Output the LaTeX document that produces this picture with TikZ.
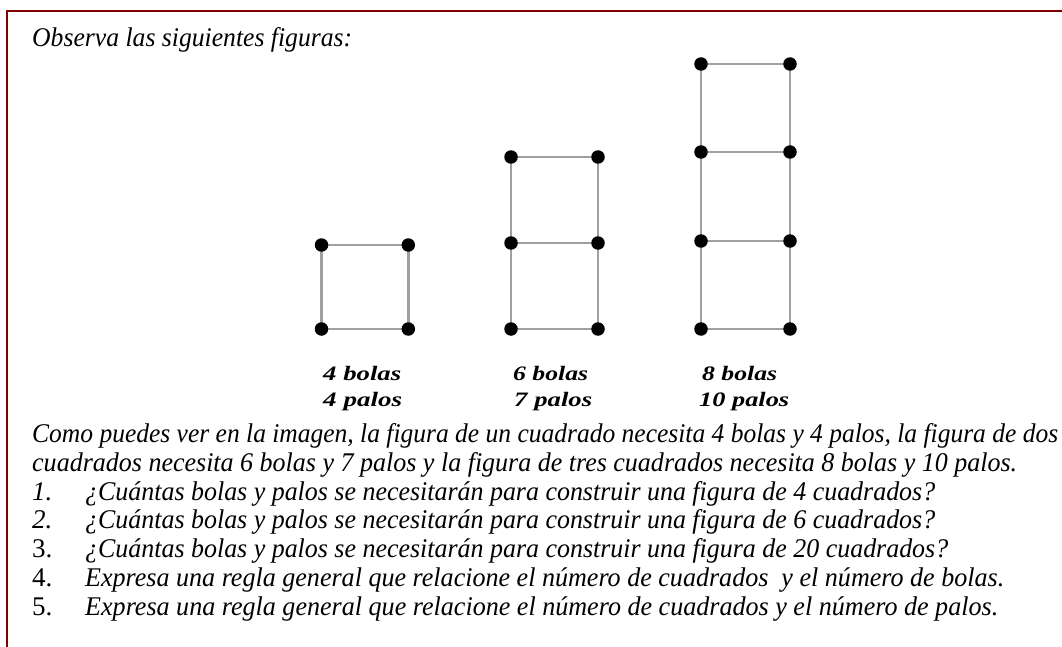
\documentclass[tikz,border=0pt]{standalone}
\usepackage{fontspec}
\setmainfont{Liberation Serif}
\usepackage{graphicx}
\pgfdeclarelayer{background}
\pgfsetlayers{background,main}
\definecolor{frame}{HTML}{800000}
\definecolor{stickc}{HTML}{A0A0A0}
\tikzset{
  ball/.style={circle, fill=black, inner sep=0pt, minimum size=13.5pt},
  stick/.style={draw=stickc, line width=2.8pt},
  txt/.style={anchor=base west, inner sep=0pt, font=\fontsize{27}{30}\selectfont\itshape},
  lbl/.style={anchor=base west, inner sep=0pt, font=\fontsize{20.5}{22}\selectfont\bfseries\itshape},
}
\newcommand{\fitw}[2]{\resizebox{#1pt}{\height}{#2}}
\begin{document}
\begin{tikzpicture}[x=1pt,y=-1pt]
\useasboundingbox (0,0) rectangle (1062,647);
% frame
\coordinate (fa) at (7,647);
\coordinate (fb) at (7,11);
\coordinate (fc) at (1062,11);
\draw[frame, line width=2.6pt] (fa) -- (fb) -- (fc);
% title
\node[txt] (title) at (32,47) {\fitw{320}{Observa las siguientes figuras:}};
% figure 1
\node[ball] (a1) at (321.5,329) {};
\node[ball] (a2) at (408.3,329) {};
\node[ball] (a3) at (321.5,245) {};
\node[ball] (a4) at (408.3,245) {};
% figure 2
\node[ball] (b1) at (511,329) {};
\node[ball] (b2) at (598,329) {};
\node[ball] (b3) at (511,243) {};
\node[ball] (b4) at (598,243) {};
\node[ball] (b5) at (511,157) {};
\node[ball] (b6) at (598,157) {};
% figure 3
\node[ball] (c1) at (701,329) {};
\node[ball] (c2) at (790,329) {};
\node[ball] (c3) at (701,241) {};
\node[ball] (c4) at (790,241) {};
\node[ball] (c5) at (701,152) {};
\node[ball] (c6) at (790,152) {};
\node[ball] (c7) at (701,64) {};
\node[ball] (c8) at (790,64) {};
\begin{pgfonlayer}{background}
\draw[stick] (a1.center) -- (a2.center) -- (a4.center) -- (a3.center) -- (a1.center);
\draw[stick] (b1.center) -- (b2.center) -- (b4.center) -- (b6.center) -- (b5.center) -- (b3.center) -- (b1.center);
\draw[stick] (b3.center) -- (b4.center);
\draw[stick] (c1.center) -- (c2.center) -- (c4.center) -- (c6.center) -- (c8.center) -- (c7.center) -- (c5.center) -- (c3.center) -- (c1.center);
\draw[stick] (c3.center) -- (c4.center);
\draw[stick] (c5.center) -- (c6.center);
\end{pgfonlayer}
% labels
\node[lbl] (l1) at (323,380) {\fitw{78}{4 bolas}};
\node[lbl] (l2) at (323,406) {\fitw{79}{4 palos}};
\node[lbl] (l3) at (513,380) {\fitw{75}{6 bolas}};
\node[lbl] (l4) at (514,406) {\fitw{78}{7 palos}};
\node[lbl] (l5) at (702,380) {\fitw{75}{8 bolas}};
\node[lbl] (l6) at (699,406) {\fitw{90}{10 palos}};
% paragraph
\node[txt] (p1) at (32,442.5) {\fitw{1026}{Como puedes ver en la imagen, la figura de un cuadrado necesita 4 bolas y 4 palos, la figura de dos}};
\node[txt] (p2) at (32,471.2) {\fitw{985}{cuadrados necesita 6 bolas y 7 palos y la figura de tres cuadrados necesita 8 bolas y 10 palos.}};
% list
\node[txt] (n1) at (32,500) {1.};
\node[txt] (q1) at (85,500) {\fitw{850}{¿Cuántas bolas y palos se necesitarán para construir una figura de 4 cuadrados?}};
\node[txt] (n2) at (32,528.5) {2.};
\node[txt] (q2) at (85,528.5) {\fitw{850}{¿Cuántas bolas y palos se necesitarán para construir una figura de 6 cuadrados?}};
\node[txt, font=\fontsize{27}{30}\selectfont\upshape] (n3) at (32,557) {3.};
\node[txt] (q3) at (85,557) {\fitw{863}{¿Cuántas bolas y palos se necesitarán para construir una figura de 20 cuadrados?}};
\node[txt, font=\fontsize{27}{30}\selectfont\upshape] (n4) at (32,586.5) {4.};
\node[txt] (q4) at (85,586.5) {\fitw{919}{Expresa una regla general que relacione el número de cuadrados\ \ y el número de bolas.}};
\node[txt, font=\fontsize{27}{30}\selectfont\upshape] (n5) at (32,615) {5.};
\node[txt] (q5) at (85,615) {\fitw{913}{Expresa una regla general que relacione el número de cuadrados y el número de palos.}};
\end{tikzpicture}
\end{document}
